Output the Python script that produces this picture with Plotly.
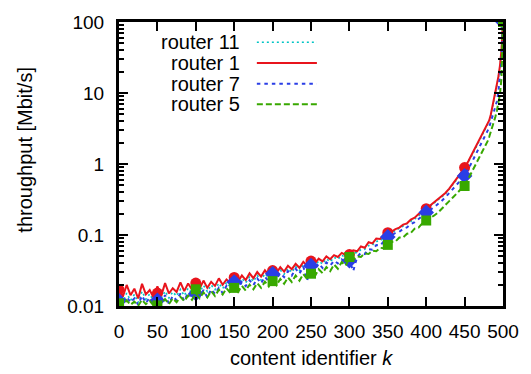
import plotly.graph_objects as go

# content identifier k (shared sample grid)
K = list(range(0, 481, 5)) + [482, 484, 486, 488, 490, 492, 494, 496, 498, 500]

# throughput [Mbit/s] per router
ROUTER_11 = [
    0.0140, 0.0115, 0.0152, 0.0120, 0.0145, 0.0112, 0.0160, 0.0125, 0.0148, 0.0118,
    0.0150, 0.0128, 0.0162, 0.0130, 0.0158, 0.0138, 0.0172, 0.0140, 0.0178, 0.0150,
    0.0180, 0.0155, 0.0195, 0.0160, 0.0198, 0.0170, 0.0210, 0.0176, 0.0215, 0.0185,
    0.0300, 0.0200, 0.0245, 0.0212, 0.0258, 0.0222, 0.0270, 0.0232, 0.0285, 0.0248,
    0.0305, 0.0262, 0.0320, 0.0280, 0.0338, 0.0298, 0.0360, 0.0315, 0.0385, 0.0335,
    0.0410, 0.0365, 0.0430, 0.0390, 0.0462, 0.0420, 0.0485, 0.0455, 0.0520, 0.0480,
    0.053, 0.055, 0.057, 0.062, 0.063, 0.071, 0.072, 0.081, 0.083, 0.093,
    0.101, 0.109, 0.116, 0.124, 0.133, 0.142, 0.156, 0.168, 0.186, 0.202,
    0.225, 0.25, 0.275, 0.305, 0.34, 0.38, 0.44, 0.51, 0.60, 0.71,
    0.85, 1.05, 1.35, 1.72, 2.2, 2.8, 3.5,
    4.0, 4.7, 6.0, 7.6, 9.6, 12.5, 16.5, 23, 38, 100,
]
ROUTER_1 = [
    0.0172, 0.0135, 0.0198, 0.0142, 0.0175, 0.0128, 0.0205, 0.0146, 0.0168, 0.0131,
    0.0189, 0.0140, 0.0210, 0.0150, 0.0178, 0.0158, 0.0215, 0.0162, 0.0208, 0.0170,
    0.0212, 0.0176, 0.0228, 0.0180, 0.0219, 0.0192, 0.0245, 0.0199, 0.0236, 0.0210,
    0.0262, 0.0221, 0.0270, 0.0232, 0.0288, 0.0246, 0.0301, 0.0260, 0.0318, 0.0272,
    0.0330, 0.0290, 0.0352, 0.0305, 0.0368, 0.0330, 0.0392, 0.0345, 0.0418, 0.0370,
    0.0440, 0.0398, 0.0465, 0.0425, 0.0500, 0.0455, 0.0520, 0.0490, 0.0560, 0.0525,
    0.0570, 0.0610, 0.0590, 0.0690, 0.0660, 0.0790, 0.0760, 0.0890, 0.0880, 0.1010,
    0.108, 0.112, 0.121, 0.127, 0.140, 0.146, 0.165, 0.175, 0.197, 0.210,
    0.235, 0.26, 0.285, 0.315, 0.35, 0.39, 0.45, 0.53, 0.62, 0.74,
    0.88, 1.1, 1.4, 1.8, 2.3, 2.9, 3.6,
    4.1, 4.9, 6.2, 7.9, 10, 13, 17, 24, 40, 100,
]
ROUTER_7 = [
    0.0120, 0.0108, 0.0135, 0.0112, 0.0128, 0.0104, 0.0140, 0.0110, 0.0132, 0.0106,
    0.0125, 0.0115, 0.0142, 0.0108, 0.0138, 0.0120, 0.0150, 0.0118, 0.0156, 0.0128,
    0.0152, 0.0135, 0.0168, 0.0132, 0.0172, 0.0148, 0.0180, 0.0152, 0.0192, 0.0165,
    0.0215, 0.0175, 0.0218, 0.0190, 0.0230, 0.0196, 0.0245, 0.0208, 0.0258, 0.0222,
    0.0282, 0.0240, 0.0290, 0.0255, 0.0310, 0.0268, 0.0335, 0.0285, 0.0360, 0.0230,
    0.0372, 0.0330, 0.0395, 0.0345, 0.0410, 0.0372, 0.0435, 0.0398, 0.0452, 0.0405,
    0.0440, 0.0310, 0.0490, 0.0560, 0.0540, 0.0630, 0.0620, 0.0720, 0.0710, 0.0830,
    0.094, 0.099, 0.107, 0.111, 0.122, 0.128, 0.142, 0.152, 0.168, 0.185,
    0.208, 0.225, 0.245, 0.27, 0.30, 0.34, 0.39, 0.45, 0.51, 0.59,
    0.68, 0.85, 1.08, 1.38, 1.75, 2.3, 2.95,
    3.3, 3.8, 4.5, 5.4, 6.4, 7.6, 10.5, 16, 28, 100,
]
ROUTER_5 = [
    0.0112, 0.0102, 0.0120, 0.0104, 0.0115, 0.0101, 0.0122, 0.0106, 0.0118, 0.0102,
    0.0110, 0.0108, 0.0125, 0.0106, 0.0128, 0.0113, 0.0135, 0.0117, 0.0140, 0.0122,
    0.0150, 0.0128, 0.0155, 0.0132, 0.0162, 0.0138, 0.0170, 0.0145, 0.0178, 0.0152,
    0.0186, 0.0158, 0.0192, 0.0165, 0.0200, 0.0172, 0.0210, 0.0180, 0.0220, 0.0188,
    0.0232, 0.0196, 0.0240, 0.0206, 0.0252, 0.0218, 0.0268, 0.0228, 0.0282, 0.0240,
    0.0298, 0.0262, 0.0330, 0.0290, 0.0352, 0.0310, 0.0385, 0.0335, 0.0415, 0.0370,
    0.047, 0.045, 0.050, 0.049, 0.055, 0.054, 0.060, 0.059, 0.066, 0.065,
    0.073, 0.080, 0.081, 0.092, 0.093, 0.104, 0.107, 0.123, 0.127, 0.147,
    0.16, 0.172, 0.187, 0.205, 0.235, 0.265, 0.30, 0.34, 0.39, 0.44,
    0.49, 0.62, 0.78, 1.0, 1.25, 1.6, 2.1,
    2.4, 2.8, 3.2, 3.8, 4.6, 5.6, 7.0, 9.5, 16, 100,
]

# point markers every 50 identifiers
MARK_K = [0, 50, 100, 150, 200, 250, 300, 350, 400, 450, 500]
MARK_R1 = [0.017, 0.0152, 0.021, 0.0253, 0.0316, 0.043, 0.053, 0.108, 0.235, 0.89, 100]
MARK_R7 = [0.0118, 0.012, 0.015, 0.0218, 0.0285, 0.037, 0.0435, 0.094, 0.208, 0.68, 100]
MARK_R5 = [0.0109, 0.0102, 0.0172, 0.018, 0.0224, 0.0285, 0.049, 0.0726, 0.16, 0.49, 100]

X_TICKS = list(range(0, 501, 50))
Y_TICKS = [0.01, 0.1, 1, 10, 100]
Y_TICK_TEXT = ["0.01", "0.1", "1", "10", "100"]

CYAN, RED, BLUE, GREEN = "#00c4c4", "#e8141c", "#2a3ee6", "#38a800"
FONT = "Liberation Sans, Arial, Helvetica, sans-serif"

fig = go.Figure()

fig.add_trace(go.Scatter(x=K, y=ROUTER_11, mode="lines",
                         line=dict(color=CYAN, width=1.6, dash="2px,3px")))
fig.add_trace(go.Scatter(x=K, y=ROUTER_1, mode="lines",
                         line=dict(color=RED, width=2)))
fig.add_trace(go.Scatter(x=MARK_K, y=MARK_R1, mode="markers",
                         marker=dict(symbol="circle", size=11, color=RED, line=dict(width=0))))
fig.add_trace(go.Scatter(x=K, y=ROUTER_7, mode="lines",
                         line=dict(color=BLUE, width=2, dash="3.5px,4px")))
fig.add_trace(go.Scatter(x=MARK_K, y=MARK_R7, mode="markers",
                         marker=dict(symbol="diamond", size=12, color=BLUE, line=dict(width=0))))
fig.add_trace(go.Scatter(x=K, y=ROUTER_5, mode="lines",
                         line=dict(color=GREEN, width=2, dash="6px,3px")))
fig.add_trace(go.Scatter(x=MARK_K, y=MARK_R5, mode="markers",
                         marker=dict(symbol="square", size=10, color=GREEN, line=dict(width=0))))

# key: labels right-aligned, line samples to their right
legend_rows = [
    ("router 11", CYAN, 1.6, "2px,3px"),
    ("router 1", RED, 2, "solid"),
    ("router 7", BLUE, 2, "3.5px,4px"),
    ("router 5", GREEN, 2, "6px,3px"),
]
PLOT_L, PLOT_T, PLOT_W, PLOT_H = 119, 18, 390, 288


def px_x(px):
    return (px - PLOT_L) / PLOT_W


def px_y(py):
    return (PLOT_T + PLOT_H - py) / PLOT_H


annotations = []
shapes = []
for i, (name, color, width, dash) in enumerate(legend_rows):
    row_y = 38.5 + i * 21
    annotations.append(dict(text=name, x=px_x(244), y=px_y(row_y), xref="paper", yref="paper",
                            xanchor="right", yanchor="middle", showarrow=False,
                            font=dict(family=FONT, size=20, color="black")))
    shapes.append(dict(type="line", xref="paper", yref="paper",
                       x0=px_x(259), x1=px_x(320), y0=px_y(row_y), y1=px_y(row_y),
                       line=dict(color=color, width=width, dash=dash)))

annotations.append(dict(text="content identifier <i>k</i>", x=px_x(315), y=px_y(359),
                        xref="paper", yref="paper", xanchor="center", yanchor="middle",
                        showarrow=False, font=dict(family=FONT, size=20, color="black")))
annotations.append(dict(text="throughput [Mbit/s]", x=px_x(24), y=px_y(147),
                        xref="paper", yref="paper", xanchor="center", yanchor="middle",
                        textangle=-90, showarrow=False,
                        font=dict(family=FONT, size=20, color="black")))

fig.update_layout(
    width=531, height=374,
    margin=dict(l=PLOT_L, r=531 - PLOT_L - PLOT_W, t=PLOT_T, b=374 - PLOT_T - PLOT_H, pad=0),
    paper_bgcolor="white", plot_bgcolor="white",
    showlegend=False,
    annotations=annotations, shapes=shapes,
    font=dict(family=FONT, size=19, color="black"),
)
fig.update_xaxes(
    range=[0, 500], tickvals=X_TICKS, ticks="inside", ticklen=9, tickwidth=2,
    tickcolor="black", showline=True, linewidth=3, linecolor="black", mirror="allticks",
    showgrid=False, zeroline=False, ticklabelstandoff=6,
    tickfont=dict(family=FONT, size=19, color="black"),
)
fig.update_yaxes(
    type="log", range=[-2, 2], tickvals=Y_TICKS, ticktext=Y_TICK_TEXT,
    ticks="inside", ticklen=9, tickwidth=2, tickcolor="black",
    minor=dict(ticks="inside", ticklen=5, tickwidth=2, tickcolor="black", dtick="D1", showgrid=False),
    showline=True, linewidth=3, linecolor="black", mirror="allticks",
    showgrid=False, zeroline=False, ticklabelstandoff=8,
    tickfont=dict(family=FONT, size=19, color="black"),
)

fig.write_html("out.html")
